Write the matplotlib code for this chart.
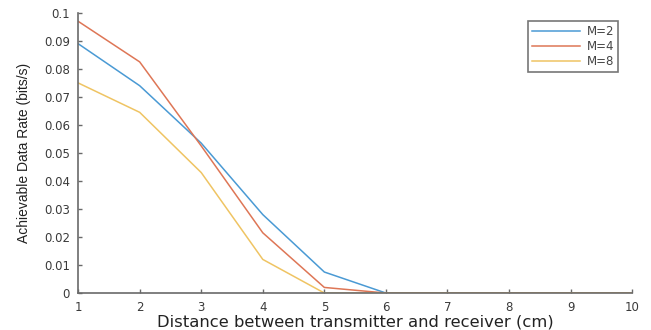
import matplotlib
matplotlib.use("Agg")
import matplotlib.pyplot as plt

distance = [1, 2, 3, 4, 5, 6, 7, 8, 9, 10]
rate_m2 = [0.089, 0.074, 0.0535, 0.028, 0.0075, 0.0, 0.0, 0.0, 0.0, 0.0]
rate_m4 = [0.097, 0.0825, 0.0525, 0.0215, 0.002, 0.0, 0.0, 0.0, 0.0, 0.0]
rate_m8 = [0.075, 0.0645, 0.043, 0.012, 0.0, 0.0, 0.0, 0.0, 0.0, 0.0]
labels = ["M=2", "M=4", "M=8"]
yticks = [0, 0.01, 0.02, 0.03, 0.04, 0.05, 0.06, 0.07, 0.08, 0.09, 0.1]
ytick_labels = ["0", "0.01", "0.02", "0.03", "0.04", "0.05", "0.06", "0.07", "0.08", "0.09", "0.1"]

plt.rcParams['font.family'] = ['DejaVu Sans']
fig = plt.figure(figsize=(6.51, 3.30), dpi=100)
ax = fig.add_axes([0.12, 0.112, 0.851, 0.849])

colors = ["#4a9ad4", "#de7656", "#efc463"]
for y, c, l in zip([rate_m2, rate_m4, rate_m8], colors, labels):
    ax.plot(distance, y, color=c, lw=1.1, label=l)

ax.set_xlim(1, 10)
ax.set_ylim(0, 0.1)
ax.set_xticks(distance)
ax.set_yticks(yticks)
ax.set_yticklabels(ytick_labels)
for s in ["top", "right"]:
    ax.spines[s].set_visible(False)
for s in ["left", "bottom"]:
    ax.spines[s].set_color("#6a6a6a")
    ax.spines[s].set_linewidth(1.2)
ax.tick_params(direction="in", length=3, width=1, colors="#6a6a6a", labelcolor="#3a3a3a", labelsize=8.5)
ax.tick_params(axis="x", pad=6)
ax.tick_params(axis="y", pad=6)
ax.set_xlabel("Distance between transmitter and receiver (cm)", fontsize=11.8, color="#222222", labelpad=0)
ax.set_ylabel("Achievable Data Rate (bits/s)", fontsize=10,
              family=["Liberation Sans Narrow", "Liberation Sans", "DejaVu Sans"],
              color="#222222", labelpad=9)

leg = ax.legend(loc="upper right", bbox_to_anchor=(0.975, 0.971), fontsize=8.5, frameon=True,
                fancybox=False, edgecolor="#555555", handlelength=4.0, borderpad=0.35,
                labelspacing=0.15, handletextpad=0.6, borderaxespad=0)
leg.get_frame().set_linewidth(1.2)
for t in leg.get_texts():
    t.set_color("#444444")

fig.savefig("out.png", dpi=100)
